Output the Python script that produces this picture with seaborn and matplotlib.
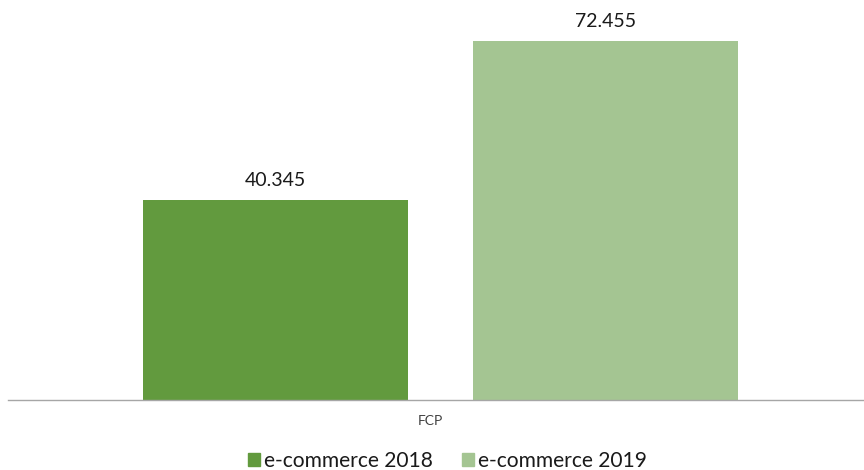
import pandas as pd
import seaborn as sns
import matplotlib.pyplot as plt
import matplotlib.transforms as mtransforms

sns.set_style("white")
plt.rcParams['font.family'] = ['Lato', 'DejaVu Sans']

category = ["FCP", "FCP"]
series = ["e-commerce 2018", "e-commerce 2019"]
values = [40.345, 72.455]
labels = ["40.345", "72.455"]
colors = ["#629A3E", "#A4C592"]

df = pd.DataFrame({"cat": category, "serie": series, "val": values})

fig = plt.figure(figsize=(8.64, 4.70), dpi=100)
ax = fig.add_axes([8 / 864, 1 - 400 / 470, 856 / 864, 400 / 470])

sns.barplot(data=df, x="cat", y="val", hue="serie", palette=colors,
            width=0.771, gap=0.197, dodge=True, saturation=1, linewidth=0,
            ax=ax, legend=False)

for bar, lab in zip(ax.patches, labels):
    ax.annotate(lab, (bar.get_x() + bar.get_width() / 2, bar.get_height()),
                xytext=(0, 8), textcoords="offset points",
                ha="center", va="bottom", fontsize=14, color="#1a1a1a")

ax.set_xlim(-0.505, 0.495)
ax.set_ylim(0, 80.7)
ax.set_xlabel("")
ax.set_ylabel("")
ax.set_yticks([])
ax.tick_params(axis="x", length=0, labelsize=10, pad=11, colors="#404040")
shift = mtransforms.ScaledTranslation(-10 / 100, 0, fig.dpi_scale_trans)
for t in ax.get_xticklabels():
    t.set_transform(t.get_transform() + shift)
for s in ["top", "right", "left"]:
    ax.spines[s].set_visible(False)
ax.spines["bottom"].set_color("#A6A6A6")
ax.spines["bottom"].set_linewidth(1)

handles = [plt.Rectangle((0, 0), 1, 1, color=c) for c in colors]
fig.legend(handles, series, loc="center", bbox_to_anchor=(0.518, 1 - 461 / 470),
           ncol=2, frameon=False, fontsize=15.1, handlelength=0.55, handleheight=0.55,
           handletextpad=0.2, columnspacing=1.4, labelcolor="#1a1a1a")

fig.savefig("out.png", dpi=100)
